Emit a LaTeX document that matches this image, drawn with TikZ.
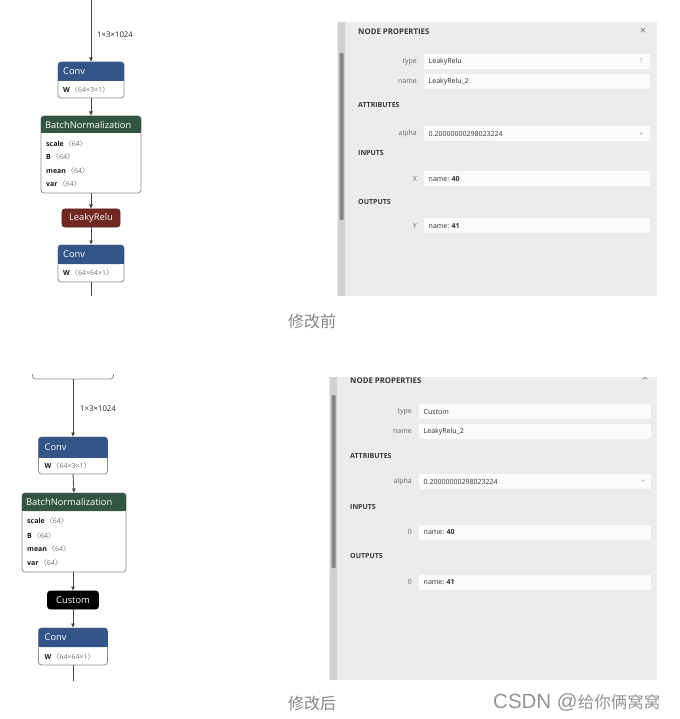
\documentclass[tikz,border=0pt]{standalone}
\usepackage{fontspec}
\setmainfont{Open Sans}
\newfontfamily\cjk{Noto Sans CJK SC}
\newfontfamily\lsans{Liberation Sans}
\usetikzlibrary{arrows.meta}
\definecolor{convblue}{HTML}{335588}
\definecolor{bngreen}{HTML}{335544}
\definecolor{actred}{HTML}{702921}
\definecolor{panelbg}{HTML}{ECECEC}
\definecolor{fieldbg}{HTML}{FBFBFB}
\definecolor{edgecol}{HTML}{444444}
\definecolor{boxborder}{HTML}{8C8C8C}
\definecolor{capgray}{HTML}{858585}
\newcommand\shp[1]{\,\textcolor{black!55}{{\cjk 〈}#1{\cjk 〉}}}
\newcommand\hdrfill[3]{%
  \fill[#2, rounded corners=3pt] (#1.north west) rectangle ([yshift=-#3]#1.north east);
  \fill[#2] ([yshift=-5pt]#1.north west) rectangle ([yshift=-#3]#1.north east);}
\newcommand\prow[6]{%
  \node[field, minimum width=#4pt, anchor=north west] (#1) at (#2,#3) {};
  \node[plabel] (#1l) at ([xshift=-7pt]#1.west) {#5};
  \node[pval] (#1v) at ([xshift=4.5pt]#1.west) {#6};}
\begin{document}
\begin{tikzpicture}[x=1pt,y=-1pt,
  opbox/.style={draw=boxborder, line width=0.8pt, fill=white, rounded corners=3pt, inner sep=0pt, outer sep=0pt},
  hdrtext/.style={font=\fontsize{9.3}{11}\selectfont, text=white, anchor=west, inner sep=0pt},
  attr/.style={font=\fontsize{7}{8}\selectfont, anchor=west, inner sep=0pt, text=black!90},
  edge/.style={draw=edgecol, line width=0.8pt, -{Latex[length=4.5pt,width=4pt]}},
  edgeline/.style={draw=edgecol, line width=0.8pt},
  elabel/.style={font=\fontsize{7.8}{9}\selectfont, anchor=west, inner sep=0pt, text=black!85},
  field/.style={fill=fieldbg, inner sep=0pt, minimum height=15pt},
  plabel/.style={font=\fontsize{7}{8}\selectfont, anchor=east, text=black!60, inner sep=0pt},
  pval/.style={font=\fontsize{7}{8}\selectfont, anchor=west, text=black!80, inner sep=0pt},
  psec/.style={font=\bfseries\fontsize{7}{8}\selectfont, anchor=west, text=black!78, inner sep=0pt},
  ptitle/.style={font=\bfseries\fontsize{7.8}{9}\selectfont, anchor=west, text=black!78, inner sep=0pt},
  picon/.style={font=\fontsize{7}{8}\selectfont, text=black!35, inner sep=0pt},
  caption/.style={font=\cjk\fontsize{16}{18}\selectfont, text=capgray, anchor=west, inner sep=0pt}
]
\useasboundingbox (0,0) rectangle (679,719);
\fill[white] (0,0) rectangle (679,719);

% ================= TOP GRAPH =================
\node[opbox, minimum width=66pt, minimum height=36pt] (c1) at (91,80) {};
\hdrfill{c1}{convblue}{19pt}
\node[hdrtext] (c1h) at ([xshift=5pt,yshift=-9.5pt]c1.north west) {Conv};
\node[attr] (c1a) at ([xshift=5pt,yshift=-27.5pt]c1.north west) {\textbf{W}\shp{64×3×1}};

\node[opbox, minimum width=100pt, minimum height=77pt] (bn1) at (91,154.5) {};
\hdrfill{bn1}{bngreen}{17pt}
\node[hdrtext] (bn1h) at ([xshift=4pt,yshift=-9pt]bn1.north west) {BatchNormalization};
\node[attr] (bn1a) at ([xshift=5pt,yshift=-27.5pt]bn1.north west) {\textbf{scale}\shp{64}};
\node[attr] (bn1b) at ([xshift=5pt,yshift=-41pt]bn1.north west) {\textbf{B}\shp{64}};
\node[attr] (bn1c) at ([xshift=5pt,yshift=-54.5pt]bn1.north west) {\textbf{mean}\shp{64}};
\node[attr] (bn1d) at ([xshift=5pt,yshift=-68pt]bn1.north west) {\textbf{var}\shp{64}};

\node[opbox, fill=actred, draw=actred!85!black, minimum width=58pt, minimum height=18pt,
      text=white, font=\fontsize{9.3}{11}\selectfont] (lr1) at (91,218) {LeakyRelu};

\node[opbox, minimum width=66pt, minimum height=37pt] (c2) at (91,263.5) {};
\hdrfill{c2}{convblue}{19pt}
\node[hdrtext] (c2h) at ([xshift=5pt,yshift=-9.5pt]c2.north west) {Conv};
\node[attr] (c2a) at ([xshift=5pt,yshift=-28pt]c2.north west) {\textbf{W}\shp{64×64×1}};

\coordinate (in1) at (91,0);
\coordinate (out1) at (91,296);
\draw[edge] (in1) -- (c1.north);
\node[elabel] (lab1) at (97,35) {1×3×1024};
\draw[edge] (c1.south) -- (bn1.north);
\draw[edge] (bn1.south) -- (lr1.north);
\draw[edge] (lr1.south) -- (c2.north);
\draw[edgeline] (c2.south) -- (out1);

% ================= TOP PANEL =================
\fill[panelbg] (337,22) rectangle (657,296);
\fill[black!18] (338,22) rectangle (345,296);
\fill[black!48, rounded corners=1pt] (339.5,53) rectangle (343.5,220);
\node[ptitle] (tp) at (358,32) {NODE PROPERTIES};
\node[font=\fontsize{11}{12}\selectfont, text=black!55, inner sep=0pt] (tx) at (643,31) {×};
\prow{ta}{424}{54}{226}{type}{LeakyRelu}
\node[picon] (taq) at (641,61.5) {?};
\prow{tb}{424}{74}{226}{name}{LeakyRelu\_2}
\node[psec] (tat) at (358,105) {ATTRIBUTES};
\prow{tc}{424}{126}{226}{alpha}{0.20000000298023224}
\node[picon] (tcq) at (641,134) {+};
\node[psec] (tin) at (358,153) {INPUTS};
\prow{td}{424}{171}{226}{X}{name: \textbf{40}}
\node[psec] (tout) at (358,202) {OUTPUTS};
\prow{te}{424}{218}{226}{Y}{name: \textbf{41}}

\node[caption] (cap1) at (288,321) {修改前};

% ================= BOTTOM GRAPH =================
\begin{scope}
\clip (0,374) rectangle (150,392);
\node[opbox, minimum width=81pt, minimum height=20pt] (pb) at (73,369) {};
\end{scope}

\node[opbox, minimum width=69pt, minimum height=37pt] (c3) at (73,455.5) {};
\hdrfill{c3}{convblue}{20.5pt}
\node[hdrtext] (c3h) at ([xshift=6pt,yshift=-10pt]c3.north west) {Conv};
\node[attr] (c3a) at ([xshift=6pt,yshift=-28.5pt]c3.north west) {\textbf{W}\shp{64×3×1}};

\node[opbox, minimum width=104pt, minimum height=79pt] (bn2) at (74,532.5) {};
\hdrfill{bn2}{bngreen}{18pt}
\node[hdrtext] (bn2h) at ([xshift=4pt,yshift=-9.5pt]bn2.north west) {BatchNormalization};
\node[attr] (bn2a) at ([xshift=5pt,yshift=-28pt]bn2.north west) {\textbf{scale}\shp{64}};
\node[attr] (bn2b) at ([xshift=5pt,yshift=-42.5pt]bn2.north west) {\textbf{B}\shp{64}};
\node[attr] (bn2c) at ([xshift=5pt,yshift=-56pt]bn2.north west) {\textbf{mean}\shp{64}};
\node[attr] (bn2d) at ([xshift=5pt,yshift=-70pt]bn2.north west) {\textbf{var}\shp{64}};

\node[opbox, fill=black, draw=black, minimum width=51pt, minimum height=18pt,
      text=white, font=\fontsize{9.3}{11}\selectfont] (cu) at (73,600) {Custom};

\node[opbox, minimum width=69pt, minimum height=37pt] (c4) at (73,646.5) {};
\hdrfill{c4}{convblue}{19pt}
\node[hdrtext] (c4h) at ([xshift=6pt,yshift=-9.5pt]c4.north west) {Conv};
\node[attr] (c4a) at ([xshift=6pt,yshift=-28.5pt]c4.north west) {\textbf{W}\shp{64×64×1}};

\coordinate (out2) at (73,681);
\draw[edge] (pb.south) -- (c3.north);
\node[elabel] (lab2) at (80,409) {1×3×1024};
\draw[edge] (c3.south) -- (bn2.north);
\draw[edge] ([xshift=-1pt]bn2.south) -- (cu.north);
\draw[edge] (cu.south) -- (c4.north);
\draw[edgeline] (c4.south) -- (out2);

% ================= BOTTOM PANEL =================
\begin{scope}
\clip (329,377) rectangle (657,680);
\fill[panelbg] (329,377) rectangle (657,680);
\fill[black!18] (330,377) rectangle (337,680);
\fill[black!48, rounded corners=1pt] (331.5,395) rectangle (335.5,568);
\node[font=\fontsize{11}{12}\selectfont, text=black!55, inner sep=0pt] (bx) at (645,378) {×};
\end{scope}
\node[ptitle] (bp) at (350,380.5) {NODE PROPERTIES};
\prow{ba}{419}{404}{232}{type}{Custom}
\prow{bb}{419}{424}{232}{name}{LeakyRelu\_2}
\node[psec] (bat) at (350,456) {ATTRIBUTES};
\prow{bc}{419}{474}{232}{alpha}{0.20000000298023224}
\node[picon] (bcq) at (643,481.5) {+};
\node[psec] (bin) at (350,507) {INPUTS};
\prow{bd}{419}{524.5}{232}{0}{name: \textbf{40}}
\node[psec] (bout) at (350,556) {OUTPUTS};
\prow{be}{419}{574.5}{232}{0}{name: \textbf{41}}

\node[caption] (cap2) at (288,703) {修改后};
\node[anchor=west, inner sep=0pt, text=black!42] (wm) at (493,702)
  {{\lsans\fontsize{20.5}{24}\selectfont CSDN @}{\cjk\fontsize{16.5}{20}\selectfont 给你俩窝窝}};
\end{tikzpicture}
\end{document}
